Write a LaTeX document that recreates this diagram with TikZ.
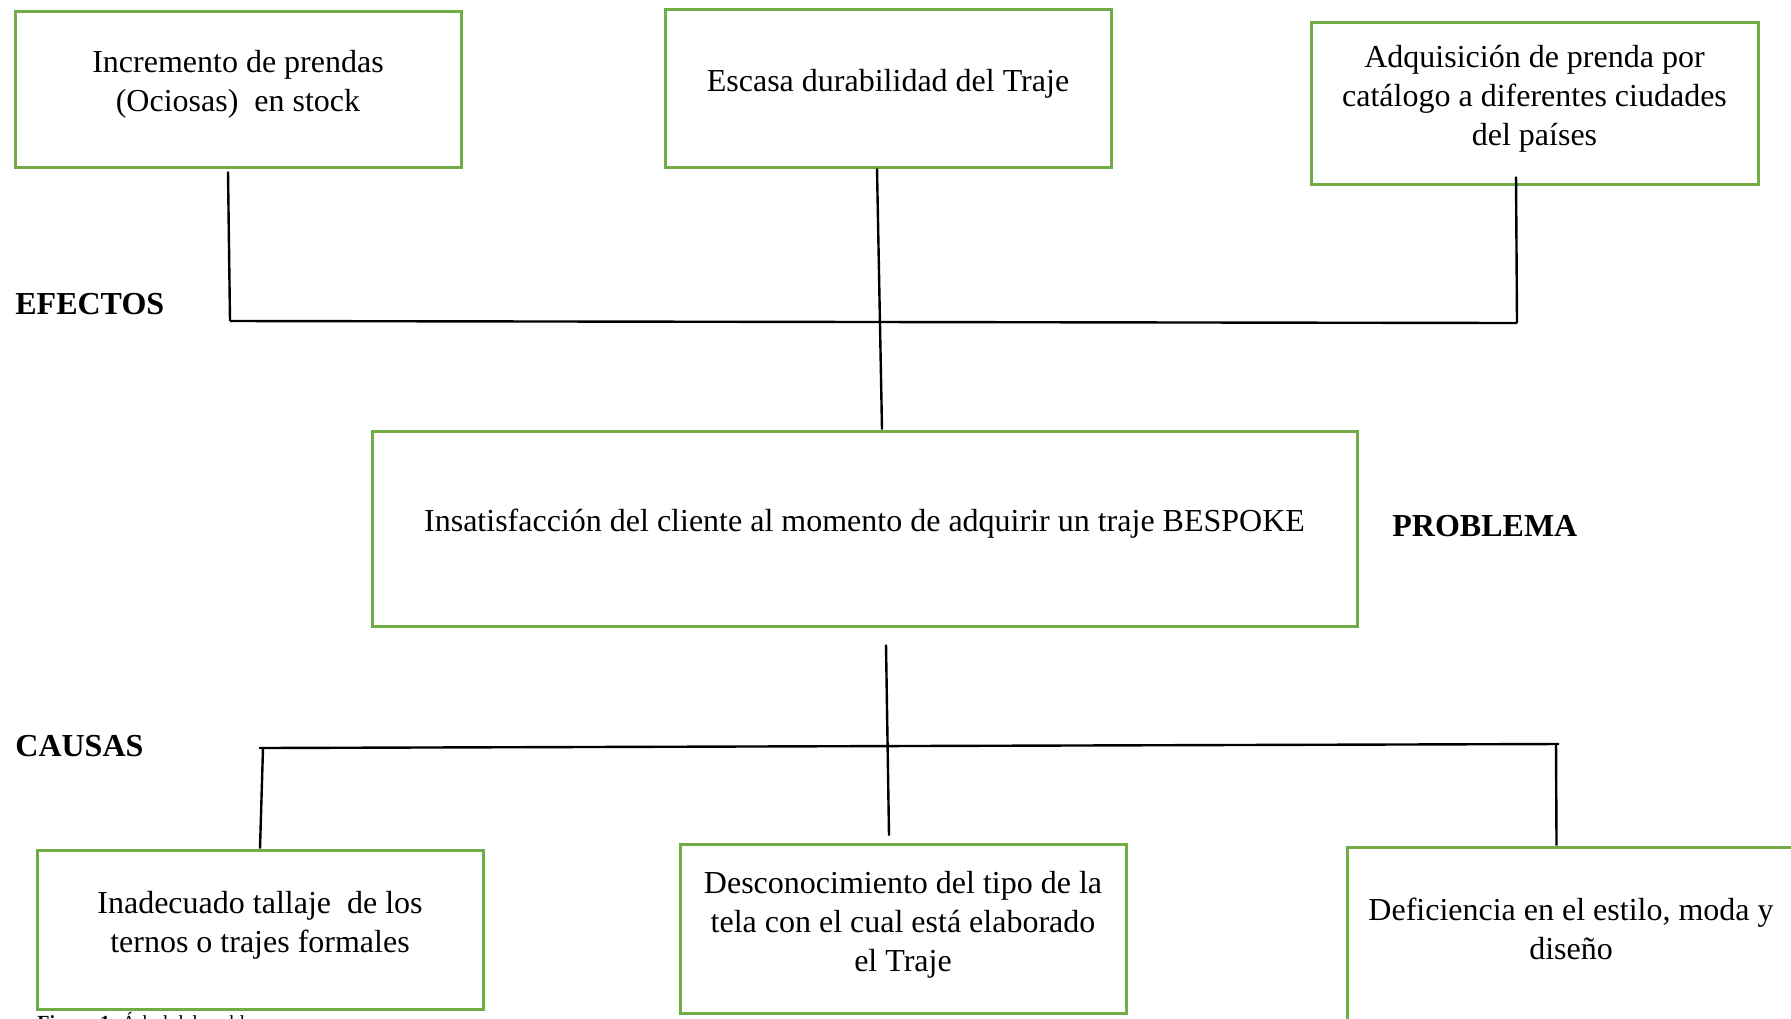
\documentclass[tikz,border=0pt]{standalone}
\usepackage{fontspec}
\setmainfont{Liberation Serif}
\definecolor{boxgreen}{RGB}{112,173,71}
\begin{document}
\begin{tikzpicture}[x=0.5pt,y=-0.5pt,
  box/.style={draw=boxgreen, line width=1.5pt, inner sep=0pt},
  txt/.style={align=center, font=\fontsize{16}{19.5}\selectfont, inner sep=0pt},
  lbl/.style={font=\fontsize{16}{19.5}\selectfont\bfseries, inner sep=0pt, anchor=west},
  conn/.style={line width=1.2pt, black}]
\path[use as bounding box] (0,0) rectangle (1791,1018);
\clip (0,0) rectangle (1791,1018);
\fill[white] (0,0) rectangle (1791,1018);

% effects
\node[box, minimum width=223pt, minimum height=78pt] (box1) at (238,89) {};
\node[txt] (box1t) at (238,84.5) {Incremento de prendas\\(Ociosas)\ \ en stock};
\node[box, minimum width=223pt, minimum height=79pt] (box2) at (888,88) {};
\node[txt] (box2t) at (888,83.5) {Escasa durabilidad del Traje};
\node[box, minimum width=223.5pt, minimum height=81pt] (box3) at (1534.5,103) {};
\node[txt] (box3t) at (1534.5,98.5) {Adquisición de prenda por\\catálogo a diferentes ciudades\\del países};

% problem
\node[box, minimum width=492.5pt, minimum height=97.5pt] (main) at (864.5,528.5) {};
\node[txt] (maint) at (864.5,524) {Insatisfacción del cliente al momento de adquirir un traje BESPOKE};

% causes
\node[box, minimum width=223pt, minimum height=79.5pt] (box4) at (260,929.5) {};
\node[txt] (box4t) at (260,925.5) {Inadecuado tallaje\ \ de los\\ternos o trajes formales};
\node[box, minimum width=223pt, minimum height=84.5pt] (box5) at (903,928.5) {};
\node[txt] (box5t) at (903,924.5) {Desconocimiento del tipo de la\\tela con el cual está elaborado\\el Traje};
\node[box, minimum width=223pt, minimum height=106.5pt] (box6) at (1570,953.5) {};
\node[txt] (box6t) at (1571,928.5) {Deficiencia en el estilo, moda y\\diseño};

% labels
\node[lbl] (efectos) at (15,304) {EFECTOS};
\node[lbl] (problema) at (1392,526) {PROBLEMA};
\node[lbl] (causas) at (15,746) {CAUSAS};
\node[inner sep=0pt, anchor=base west, font=\fontsize{10}{12}\selectfont] (caption) at (37,1029) {\textbf{Figura 1.} Árbol del problema};

% junctions
\coordinate (ejL) at (230,321);
\coordinate (ejR) at (1517,323);
\coordinate (cjL) at (259,748);
\coordinate (cjR) at (1559,744);
\coordinate (cjLd) at (263,748);
\coordinate (cjRd) at (1556,744);

% connectors
\draw[conn] ([xshift=-5pt,yshift=-1.5pt]box1.south) -- (ejL);
\draw[conn] ([xshift=-9.25pt,yshift=4.5pt]box3.south) -- (ejR);
\draw[conn] (ejL) -- (ejR);
\draw[conn] ([xshift=-5.5pt]box2.south) -- ([xshift=8.75pt]main.north);
\draw[conn] ([xshift=10.75pt,yshift=-8.5pt]main.south) -- ([xshift=-7pt,yshift=3.5pt]box5.north);
\draw[conn] (cjL) -- (cjR);
\draw[conn] (cjLd) -- (box4.north);
\draw[conn] (cjRd) -- ([xshift=-6.75pt]box6.north);
\end{tikzpicture}
\end{document}
